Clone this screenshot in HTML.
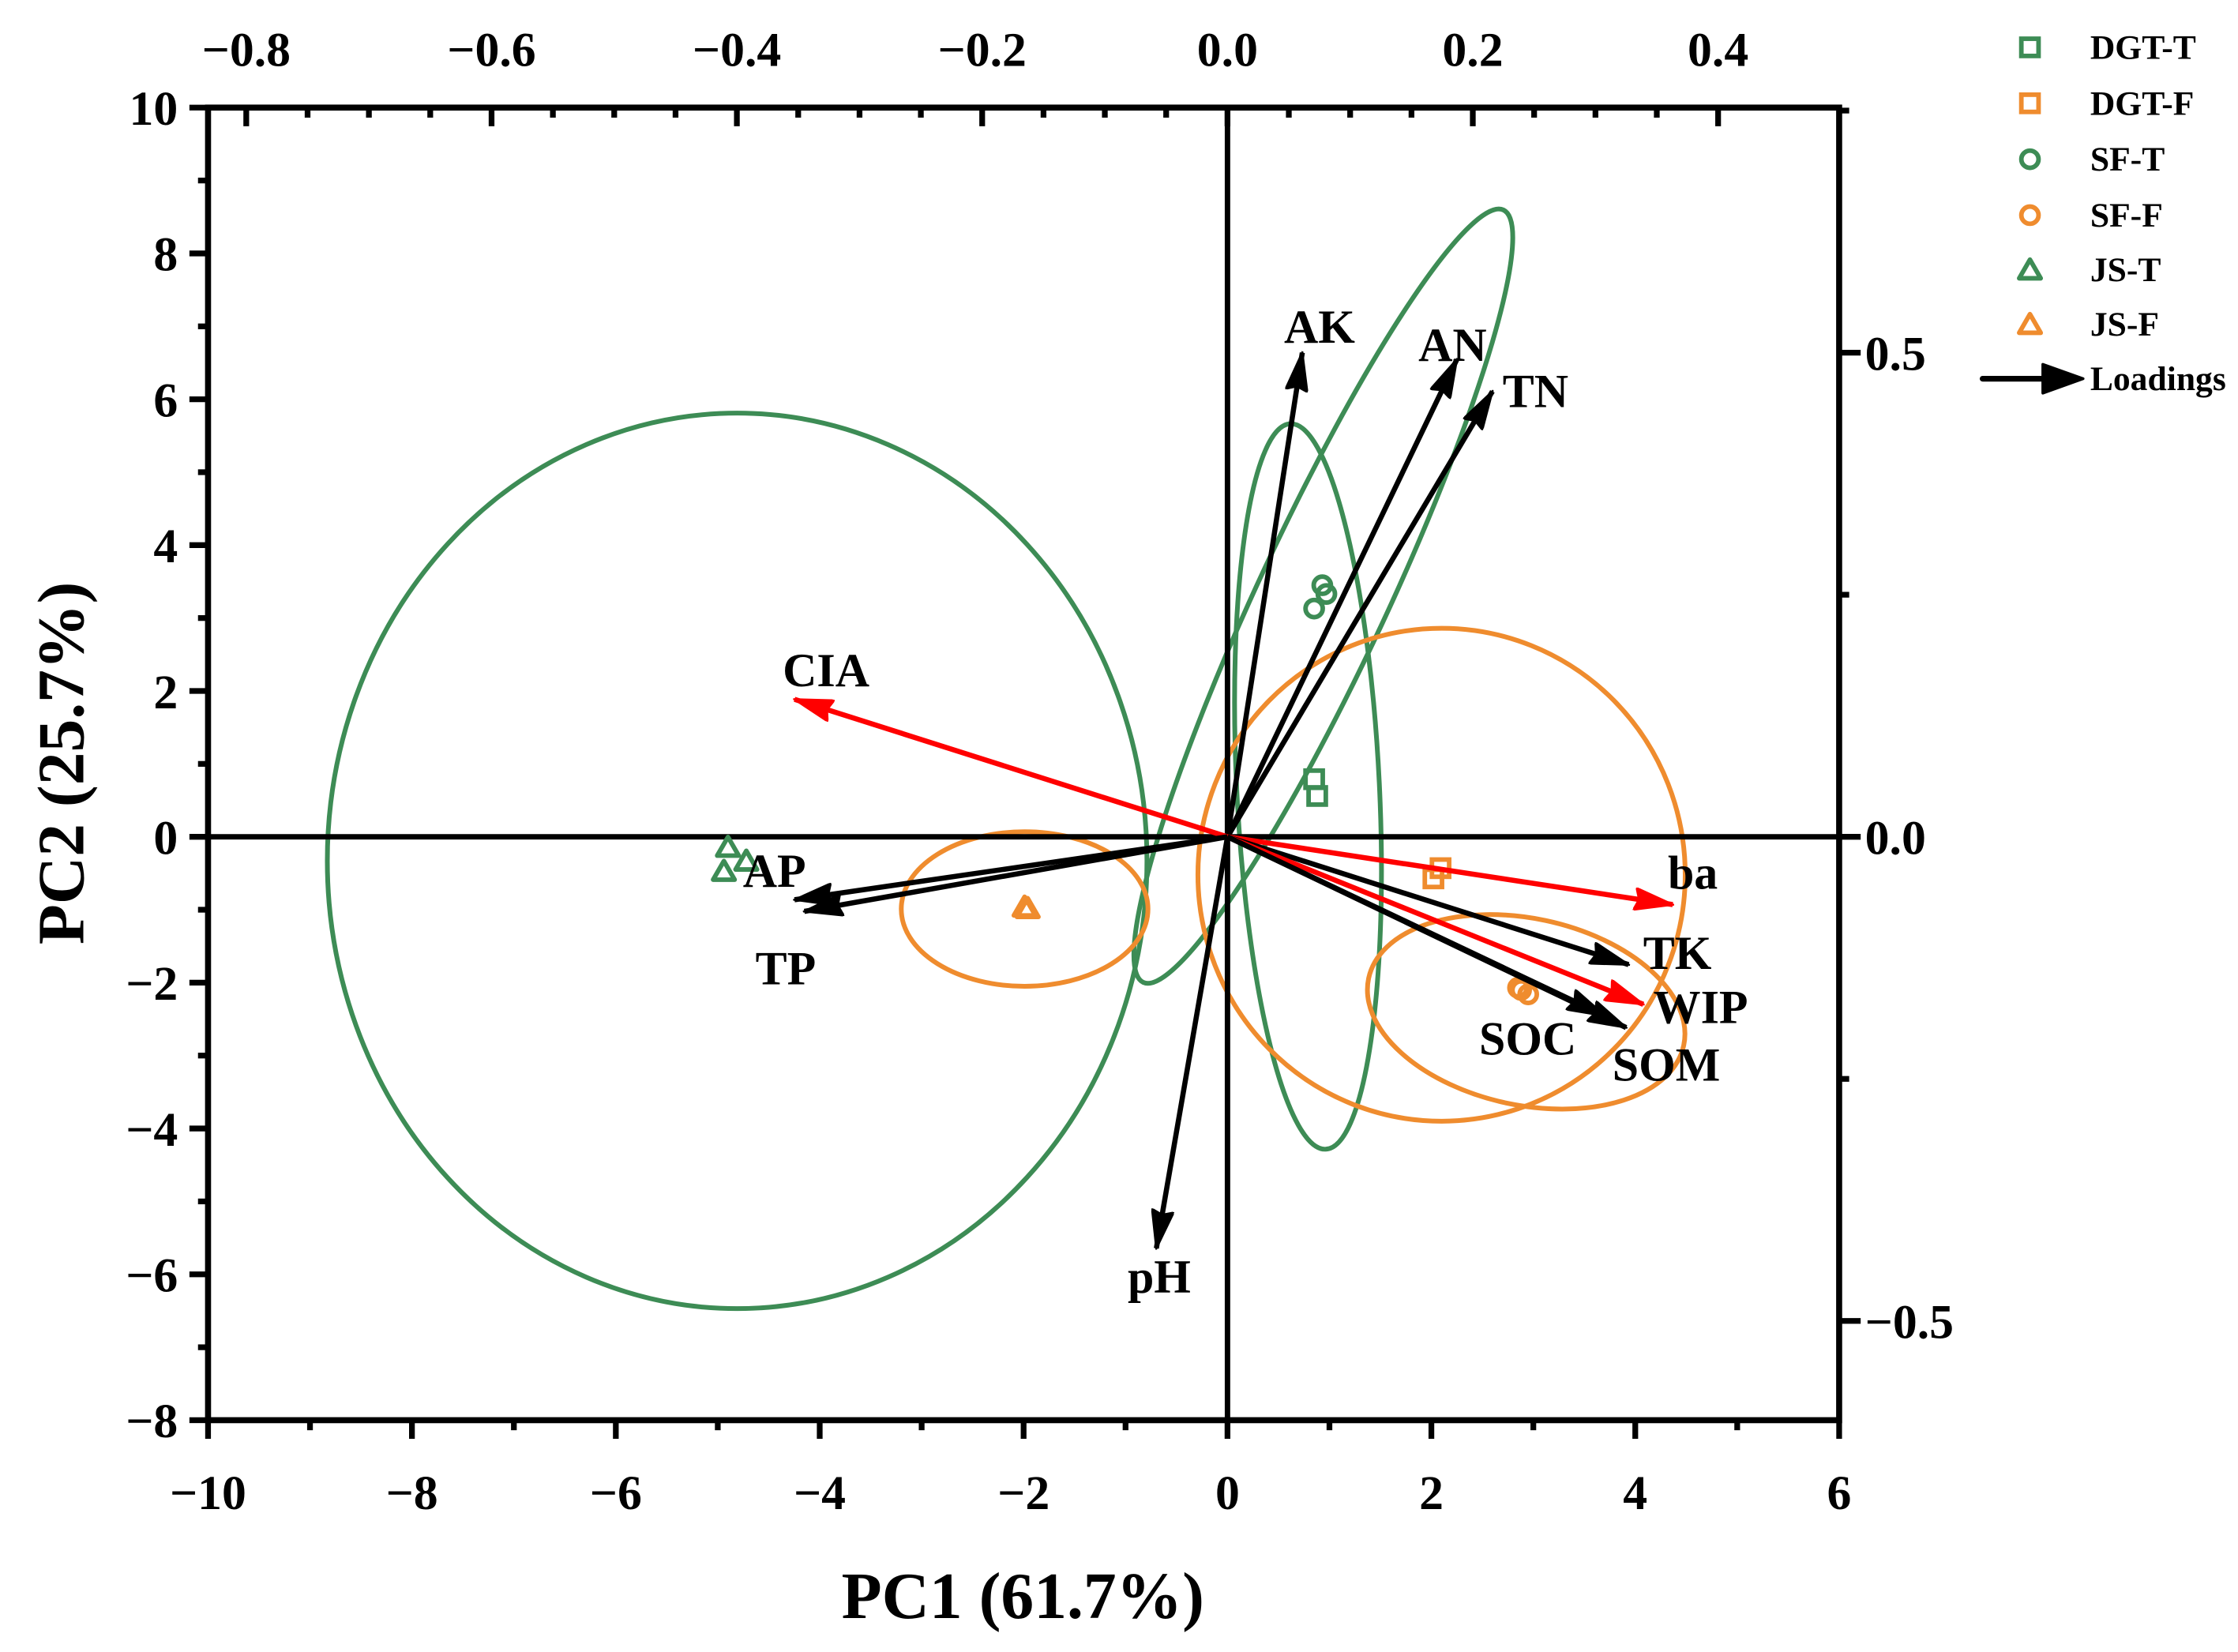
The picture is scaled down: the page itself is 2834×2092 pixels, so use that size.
<!DOCTYPE html>
<html><head><meta charset="utf-8">
<style>
html,body{margin:0;padding:0;background:#fff;}
svg{display:block;font-family:"Liberation Serif","Times New Roman",serif;font-weight:bold;}
</style></head>
<body>
<svg id="chart" width="2834" height="2092" viewBox="0 0 1560 1151.6" xmlns="http://www.w3.org/2000/svg">
<defs>
<marker id="ahB" markerWidth="28" markerHeight="16" refX="27" refY="8" orient="auto" markerUnits="userSpaceOnUse" viewBox="0 0 28 16"><path d="M0,0 L28,8 L0,16 L3,8 z" fill="#000" stroke="#000" stroke-width="1" stroke-linejoin="round"/></marker>
<marker id="ahR" markerWidth="28" markerHeight="16" refX="27" refY="8" orient="auto" markerUnits="userSpaceOnUse" viewBox="0 0 28 16"><path d="M0,0 L28,8 L0,16 L3,8 z" fill="#f00" stroke="#f00" stroke-width="1" stroke-linejoin="round"/></marker>
</defs>
<g id="plot"></g>
</svg>
<script>
// ---- data ----
const pc1Ticks = [-10,-8,-6,-4,-2,0,2,4,6];
const pc2Ticks = [-8,-6,-4,-2,0,2,4,6,8,10];
const topTicks = [-0.8,-0.6,-0.4,-0.2,0.0,0.2,0.4];
const rightTicks = [-0.5,0.0,0.5];
const groups = ["DGT-T","DGT-F","SF-T","SF-F","JS-T","JS-F"];
const groupColor = ["#3d8c55","#ef8c2e","#3d8c55","#ef8c2e","#3d8c55","#ef8c2e"];
const groupShape = ["square","square","circle","circle","triangle","triangle"];
const pointGroup = [0,0,1,1,2,2,2,3,3,3,4,4,4,5,5];
const pointPC1 = [0.85,0.88,2.09,2.02,0.93,0.97,0.85,2.88,2.95,2.85,-4.9,-4.72,-4.94,-1.99,-1.96];
const pointPC2 = [0.79,0.56,-0.43,-0.57,3.45,3.33,3.13,-2.1,-2.16,-2.07,-0.14,-0.33,-0.47,-0.96,-0.98];
const loadNames = ["AK","AN","TN","CIA","AP","TP","pH","ba","TK","WIP","SOC","SOM"];
const loadX = [0.061,0.187,0.216,-0.353,-0.353,-0.345,-0.058,0.363,0.327,0.339,0.308,0.325];
const loadY = [0.50,0.493,0.46,0.142,-0.065,-0.077,-0.425,-0.07,-0.132,-0.173,-0.185,-0.197];
const loadRed = [0,0,0,1,0,0,0,1,0,1,0,0];
const ellCX = [-4.81,0.94,0.79,-1.99,2.1,2.93];
const ellCY = [-0.33,3.3,0.69,-0.99,-0.52,-2.4];
const ellRX = [4.02,4.18,0.70,1.21,2.39,1.58];
const ellRY = [6.14,0.89,4.98,1.06,3.38,1.28];
const ellRot = [0,-65,-2.8,0,0,12];
const ellColor = ["#3d8c55","#3d8c55","#3d8c55","#ef8c2e","#ef8c2e","#ef8c2e"];

// ---- axes ----
const L=145,R=1282,T=75,B=990;
const sx = v => L + (v+10)*(R-L)/16;
const sy = v => B - (v+8)*(B-T)/18;
const tx = v => sx(0) + v*855;
const ty = v => sy(0) - v*675;
const NS="http://www.w3.org/2000/svg";
const g=document.getElementById('plot');
function el(tag,attrs,parent){const e=document.createElementNS(NS,tag);for(const k in attrs)e.setAttribute(k,attrs[k]);(parent||g).appendChild(e);return e;}
function txt(s,x,y,size,anchor,parent){const e=el('text',{x:x,y:y,'font-size':size,'text-anchor':anchor||'middle',fill:'#000'},parent);e.textContent=s;return e;}

// ellipses
for(let i=0;i<ellCX.length;i++){
  const e=el('ellipse',{cx:sx(ellCX[i]),cy:sy(ellCY[i]),rx:ellRX[i]*(R-L)/16,ry:ellRY[i]*(B-T)/18,fill:'none',stroke:ellColor[i],'stroke-width':3.3,transform:`rotate(${ellRot[i]} ${sx(ellCX[i])} ${sy(ellCY[i])})`});
  
  
}
// zero lines
const zx=el('line',{x1:L,x2:R,y1:sy(0),y2:sy(0),stroke:'#000','stroke-width':3.8});


const zy=el('line',{x1:sx(0),x2:sx(0),y1:T,y2:B,stroke:'#000','stroke-width':3.8});



function marker(shape,x,y,color,parent,sz){
  sz=sz||6;
  let e;
  if(shape==='square') e=el('rect',{x:x-sz,y:y-sz,width:2*sz,height:2*sz,fill:'none',stroke:color,'stroke-width':3.2},parent);
  else if(shape==='circle') e=el('circle',{cx:x,cy:y,r:sz,fill:'none',stroke:color,'stroke-width':3.2},parent);
  else e=el('path',{d:`M${x},${y-sz-1} L${x+sz+1.5},${y+sz} L${x-sz-1.5},${y+sz} Z`,fill:'none',stroke:color,'stroke-width':3.2,'stroke-linejoin':'round'},parent);
  return e;
}
// points
for(let i=0;i<pointPC1.length;i++){
  const gi=pointGroup[i];
  const m=marker(groupShape[gi],sx(pointPC1[i]),sy(pointPC2[i]),groupColor[gi]);
  
  
}
// loadings
const labOff={AK:[12,-18],AN:[-3,-10],TN:[30,0],CIA:[22,-20],AP:[-14,-20],TP:[-13,40],pH:[2,20],ba:[14,-22],TK:[34,-8],WIP:[40,2],SOC:[-54,16],SOM:[28,26]};
for(let i=0;i<loadNames.length;i++){
  const c=loadRed[i]?'#f00':'#000';
  const a=el('line',{x1:sx(0),y1:sy(0),x2:tx(loadX[i]),y2:ty(loadY[i]),stroke:c,'stroke-width':3.6,'marker-end':loadRed[i]?'url(#ahR)':'url(#ahB)'});
  
  
  const o=labOff[loadNames[i]];
  const t=txt(loadNames[i],tx(loadX[i])+o[0],ty(loadY[i])+o[1]+11,33,'middle');
  
  
}
// frame
const fr=el('rect',{x:L,y:T,width:R-L,height:B-T,fill:'none',stroke:'#000','stroke-width':4.2});


// bottom ticks
for(let v=-10;v<=6;v++){
  const maj=pc1Ticks.includes(v);
  el('line',{x1:sx(v),x2:sx(v),y1:B,y2:B+(maj?13:7),stroke:'#000','stroke-width':4});
}
pc1Ticks.forEach(v=>{const t=txt(v<0?'\u2212'+(-v):String(v),sx(v),B+62,34);
  
  });
// left ticks
for(let v=-8;v<=10;v++){
  const maj=pc2Ticks.includes(v);
  el('line',{x1:L,x2:L-(maj?13:7),y1:sy(v),y2:sy(v),stroke:'#000','stroke-width':4});
}
pc2Ticks.forEach(v=>{const t=txt(v<0?'\u2212'+(-v):String(v),124,sy(v)+12,34,'end');
  
  });
// top ticks (inward)
for(let k=-16;k<=8;k++){
  const v=k*0.05; if(tx(v)<L+2||tx(v)>R-2) continue;
  const maj=(k%4===0);
  el('line',{x1:tx(v),x2:tx(v),y1:T,y2:T+(maj?13:7),stroke:'#000','stroke-width':4});
}
topTicks.forEach(v=>{const t=txt(v<0?'\u2212'+(-v).toFixed(1):v.toFixed(1),tx(v),46,34);
  
  });
// right ticks (outward)
for(let k=-3;k<=3;k++){
  const v=k*0.25; if(ty(v)<T||ty(v)>B) continue;
  const maj=(k%2===0);
  el('line',{x1:R,x2:R+(maj?15:7),y1:ty(v),y2:ty(v),stroke:'#000','stroke-width':4});
}
rightTicks.forEach(v=>{const t=txt(v<0?'\u2212'+(-v).toFixed(1):v.toFixed(1),1300,ty(v)+12,34,'start');
  
  });
// titles
const xt=txt('PC1 (61.7%)',713,1128,46);


const yt=txt('PC2 (25.7%)',0,0,46);
yt.setAttribute('transform','translate(58,532) rotate(-90)');


// legend
const lg=el('g',{});


const rowsY=[33,72,111,150,188,226];
groups.forEach((name,i)=>{
  const m=marker(groupShape[i],1415,rowsY[i],groupColor[i],lg,6);
  
  
  const t=txt(name,1457,rowsY[i]+8,24,'start',lg);
  
  
});
el('line',{x1:1382,y1:264,x2:1430,y2:264,stroke:'#000','stroke-width':4,'stroke-linecap':'round'},lg);
el('path',{d:'M1424,254 L1452,264 L1424,274 Z',fill:'#000','stroke':'#000','stroke-width':2,'stroke-linejoin':'round'},lg);
const lt=txt('Loadings',1457,272,24,'start',lg);


</script>
</body></html>
